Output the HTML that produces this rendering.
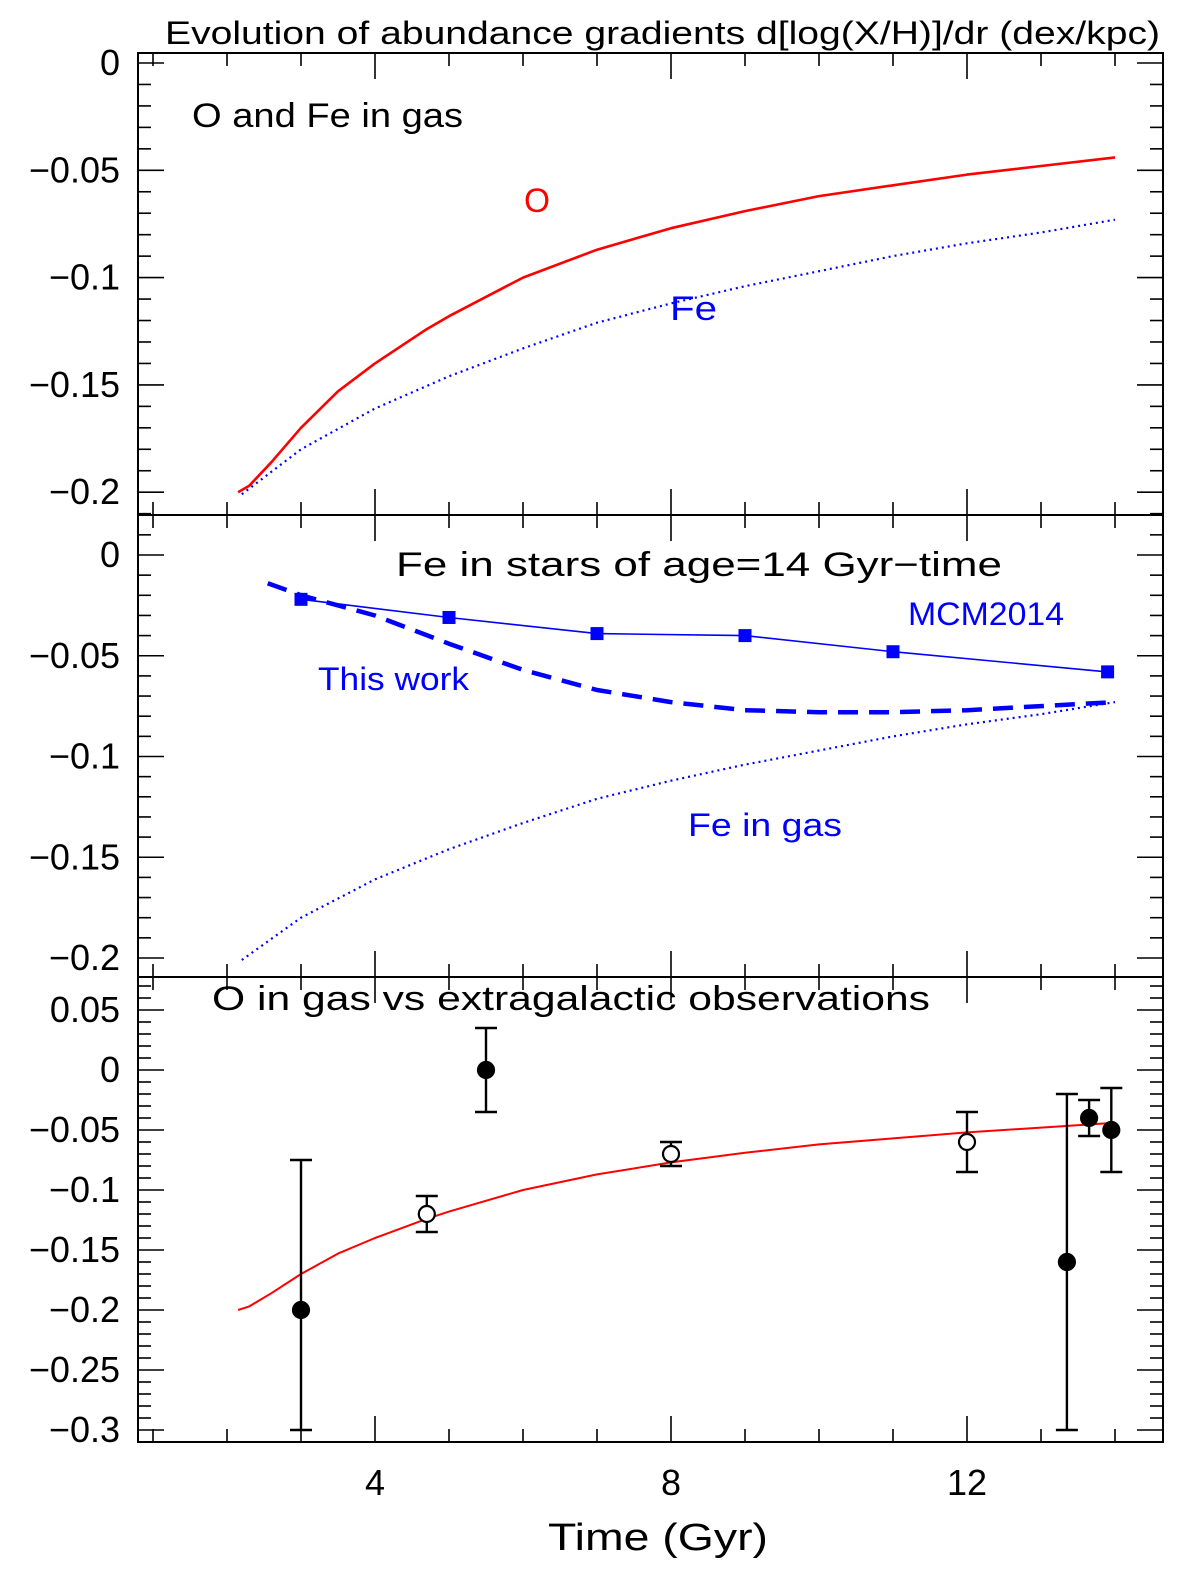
<!DOCTYPE html>
<html><head><meta charset="utf-8"><style>
html,body{margin:0;padding:0;background:#fff;overflow:hidden;width:1200px;height:1588px;}
svg{display:block;}
text{font-family:"Liberation Sans",sans-serif;}
</style></head><body>
<svg id="chart" width="1200" height="1588" viewBox="0 0 1200 1588" xmlns="http://www.w3.org/2000/svg"></svg>
<script>
// ---- data ----
const oGasT = [2.15,2.3,2.6,3,3.5,4,4.7,5,6,7,8,9,10,11,12,13,14];
const oGasV = [-0.200,-0.197,-0.186,-0.170,-0.153,-0.140,-0.124,-0.118,-0.100,-0.087,-0.077,-0.069,-0.062,-0.057,-0.052,-0.048,-0.044];
const feGasT = [2.2,3,4,5,6,7,8,9,10,11,12,13,14];
const feGasV = [-0.201,-0.180,-0.161,-0.146,-0.133,-0.121,-0.112,-0.104,-0.097,-0.090,-0.084,-0.079,-0.073];
const thisWorkT = [2.55,3,4,5,6,7,8,9,10,11,12,13,14];
const thisWorkV = [-0.014,-0.020,-0.030,-0.044,-0.057,-0.067,-0.073,-0.077,-0.078,-0.078,-0.077,-0.075,-0.073];
const mcmT = [3,5,7,9,11,13.9];
const mcmV = [-0.022,-0.031,-0.039,-0.040,-0.048,-0.058];
const obsT = [3.0,4.7,5.5,8,12,13.35,13.65,13.95];
const obsV = [-0.20,-0.12,0.0,-0.07,-0.06,-0.16,-0.04,-0.05];
const obsLo = [-0.30,-0.135,-0.035,-0.08,-0.085,-0.30,-0.055,-0.085];
const obsHi = [-0.075,-0.105,0.035,-0.06,-0.035,-0.02,-0.025,-0.015];
const obsOpen = [false,true,false,true,true,false,false,false];
const xTickLabels = [4,8,12];
const topTicks = [0,-0.05,-0.1,-0.15,-0.2];
const midTicks = [0,-0.05,-0.1,-0.15,-0.2];
const botTicks = [0.05,0,-0.05,-0.1,-0.15,-0.2,-0.25,-0.3];

const svg = document.getElementById('chart');
const NS = 'http://www.w3.org/2000/svg';
function el(tag, attrs, parent){const e=document.createElementNS(NS,tag);for(const k in attrs)e.setAttribute(k,attrs[k]);(parent||svg).appendChild(e);return e;}
const L=138,R=1163;
const X = t => 79 + 74*t;
const panels = [
  {top:53,bot:515,y0:63,k:2146,ymin:-0.212,ymax:0.005,ticks:topTicks},
  {top:515,bot:977,y0:555,k:2015,ymin:-0.210,ymax:0.02,ticks:midTicks},
  {top:977,bot:1442,y0:1070,k:1200,ymin:-0.31,ymax:0.077,ticks:botTicks}
];
panels.forEach(p=>{p.Y=v=>p.y0 - p.k*v;});
function fmt(v){if(v===0)return '0';let s=String(Math.abs(v)).replace(/^0/,'');return (v<0?'\u2212':'')+'0'+s;}

panels.forEach((p,i)=>{
  const g=el('g',{});
  
  
  el('rect',{x:L,y:p.top,width:R-L,height:p.bot-p.top,fill:'none',stroke:'#000','stroke-width':2},g);
  for(let t=1;t<=14;t++){
    const x=X(t); const len=(t%4===0)?26:13;
    el('line',{x1:x,y1:p.bot,x2:x,y2:p.bot-len,stroke:'#000','stroke-width':1.6},g);
    el('line',{x1:x,y1:p.top,x2:x,y2:p.top+len,stroke:'#000','stroke-width':1.6},g);
  }
  const start=Math.ceil(p.ymin*100-1e-6), end=Math.floor(p.ymax*100+1e-6);
  for(let n=start;n<=end;n++){
    const y=p.Y(n/100); if(y<p.top+1||y>p.bot-1)continue;
    const len=(n%5===0)?26:13;
    el('line',{x1:L,y1:y,x2:L+len,y2:y,stroke:'#000','stroke-width':1.6},g);
    el('line',{x1:R,y1:y,x2:R-len,y2:y,stroke:'#000','stroke-width':1.6},g);
  }
  p.ticks.forEach(v=>{
    const t=el('text',{x:120,y:p.Y(v)+12,'text-anchor':'end','font-size':36,'font-family':'Liberation Serif, serif'},g);
    
    
    t.textContent=fmt(v);
  });
});
xTickLabels.forEach(v=>{
  const t=el('text',{x:X(v),y:1495,'text-anchor':'middle','font-size':36,'font-family':'Liberation Serif, serif'});
  
  
  t.textContent=v;
});
function txt(x,y,s,size,color,name,w){
  const a={x:x,y:y,'font-size':size,fill:color};
  if(w){a.textLength=w;a.lengthAdjust='spacingAndGlyphs';}
  const t=el('text',a);
  
  
  t.textContent=s;return t;
}
txt(548,1550,'Time (Gyr)',38,'#000','x-axis-title',220);
txt(165,44,'Evolution of abundance gradients d[log(X/H)]/dr (dex/kpc)',32,'#000','chart-title',995);
txt(192,127,'O and Fe in gas',34,'#000','panel-1-title',271);
txt(524,212,'O',34,'#f00','label-o',26);
txt(670,320,'Fe',34,'#00f','label-fe',47);
txt(396,576,'Fe in stars of age=14 Gyr\u2212time',34,'#000','panel-2-title',606);
txt(908,625,'MCM2014',32,'#00f','label-mcm2014',156);
txt(318,690,'This work',32,'#00f','label-this-work',151);
txt(688,836,'Fe in gas',32,'#00f','label-fe-in-gas',154);
txt(212,1010,'O in gas vs extragalactic observations',34,'#000','panel-3-title',718);

function path(T,V,p,attrs,name){
  const d=T.map((t,i)=>(i?'L':'M')+X(t).toFixed(1)+','+p.Y(V[i]).toFixed(1)).join(' ');
  const e=el('path',Object.assign({d:d,fill:'none','stroke-linejoin':'round'},attrs));
  
  
}
const P=panels;
path(oGasT,oGasV,P[0],{stroke:'#f00','stroke-width':2.6},'o-gas-line');
path(feGasT,feGasV,P[0],{stroke:'#00f','stroke-width':2.2,'stroke-dasharray':'2 4'},'fe-gas-line');
path(feGasT,feGasV,P[1],{stroke:'#00f','stroke-width':2.2,'stroke-dasharray':'2 4'},'fe-gas-line-2');
path(thisWorkT,thisWorkV,P[1],{stroke:'#00f','stroke-width':4.5,'stroke-dasharray':'20 11'},'this-work-line');
path(mcmT,mcmV,P[1],{stroke:'#00f','stroke-width':1.6},'mcm2014-line');
mcmT.forEach((t,i)=>{
  const r=el('rect',{x:X(t)-6.5,y:P[1].Y(mcmV[i])-6.5,width:13,height:13,fill:'#00f'});
  
  
});
path(oGasT,oGasV,P[2],{stroke:'#f00','stroke-width':2},'o-gas-line-3');
obsT.forEach((t,i)=>{
  const p=P[2], x=X(t);
  const g=el('g',{});
  
  
  const yl=p.Y(obsLo[i]), yh=p.Y(obsHi[i]), y=p.Y(obsV[i]);
  el('line',{x1:x,y1:yl,x2:x,y2:yh,stroke:'#000','stroke-width':2.4},g);
  el('line',{x1:x-11,y1:yl,x2:x+11,y2:yl,stroke:'#000','stroke-width':2.4},g);
  el('line',{x1:x-11,y1:yh,x2:x+11,y2:yh,stroke:'#000','stroke-width':2.4},g);
  el('circle',{cx:x,cy:y,r:8,fill:obsOpen[i]?'#fff':'#000',stroke:'#000','stroke-width':2.2},g);
});
</script>
</body></html>
